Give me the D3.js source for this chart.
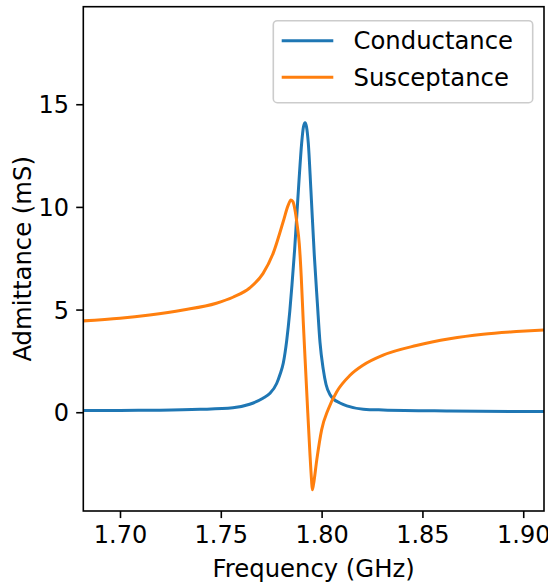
<!DOCTYPE html>
<html>
<head>
<meta charset="utf-8">
<script src="https://cdn.jsdelivr.net/npm/d3@7"></script>
<style>
  html, body { margin: 0; padding: 0; background: #fff; }
  svg { display: block; }
  text { font-family: "DejaVu Sans", sans-serif; fill: #000; }
</style>
</head>
<body>
<svg id="chart" width="548" height="584"></svg>
<script>
// ---- data ----
const seriesNames = ["Conductance", "Susceptance"];
const seriesColors = ["#1f77b4", "#ff7f0e"];

const conductanceFreq = [1.6818, 1.700, 1.7198, 1.7397, 1.7560, 1.7643, 1.7709, 1.7744, 1.7777, 1.7794,
  1.7810, 1.7827, 1.7842, 1.7853, 1.7866, 1.7877, 1.7888, 1.7901, 1.7910, 1.7918, 1.7925, 1.7934,
  1.7947, 1.7964, 1.7979, 1.7992, 1.8008, 1.8022, 1.8042, 1.8058, 1.8091, 1.8125, 1.8207, 1.8305,
  1.8635, 1.9103];
const conductance = [0.08, 0.09, 0.10, 0.14, 0.22, 0.39, 0.68, 0.92, 1.40, 1.85,
  2.40, 3.50, 4.90, 6.20, 7.90, 9.60, 11.30, 13.10, 13.90, 14.10, 13.90, 13.10,
  10.80, 7.60, 5.30, 3.40, 2.10, 1.35, 0.85, 0.65, 0.45, 0.31, 0.15, 0.11,
  0.06, 0.03];

const susceptanceFreq = [1.6818, 1.700, 1.7147, 1.7313, 1.7478, 1.7560, 1.7643, 1.7709, 1.7760,
  1.7810, 1.7833, 1.7848, 1.7858, 1.7868, 1.7879, 1.7889, 1.7899, 1.7909, 1.7918, 1.7929, 1.7942,
  1.7950, 1.7954, 1.7960, 1.7976, 1.8000, 1.8033, 1.8075, 1.8141, 1.8207, 1.8305, 1.8470, 1.8635,
  1.8801, 1.8966, 1.9103];
const susceptance = [4.45, 4.58, 4.74, 4.98, 5.31, 5.60, 6.05, 6.75, 7.75,
  9.30, 10.05, 10.34, 10.25, 9.85, 9.10, 8.23, 6.60, 4.40, 2.60, 0.44, -2.00,
  -3.30, -3.78, -3.50, -2.32, -0.86, 0.15, 1.00, 1.80, 2.30, 2.78, 3.25, 3.58,
  3.80, 3.93, 4.01];

const xTicks = [1.70, 1.75, 1.80, 1.85, 1.90];
const yTicks = [0, 5, 10, 15];
const xDomain = [1.6818, 1.9103];
const yDomain = [-4.81, 19.75];
const xLabel = "Frequency (GHz)";
const yLabel = "Admittance (mS)";

// ---- layout ----
const svg = d3.select("#chart");
const pLeft = 83.3, pRight = 544, pTop = 6.7, pBottom = 511;
const fs = 24.3;
const tickFs = 24;

const x = d3.scaleLinear().domain(xDomain).range([pLeft, pRight]);
const y = d3.scaleLinear().domain(yDomain).range([pBottom, pTop]);

svg.append("defs").append("clipPath").attr("id", "clip")
  .append("rect").attr("x", pLeft).attr("y", pTop)
  .attr("width", pRight - pLeft).attr("height", pBottom - pTop);

const series = [
  { name: seriesNames[0], color: seriesColors[0], f: conductanceFreq, v: conductance },
  { name: seriesNames[1], color: seriesColors[1], f: susceptanceFreq, v: susceptance }
];

const line = d3.line()
  .x(d => x(d[0]))
  .y(d => y(d[1]))
  .curve(d3.curveMonotoneX);

const plot = svg.append("g").attr("clip-path", "url(#clip)");
series.forEach(s => {
  plot.append("path")
    .datum(s.f.map((f, i) => [f, s.v[i]]))
    .attr("d", line)
    .attr("fill", "none")
    .attr("stroke", s.color)
    .attr("stroke-width", 3)
    .attr("stroke-linejoin", "round")
    .attr("stroke-linecap", "square");
});

// axes
const xAxis = d3.axisBottom(x).tickValues(xTicks).tickFormat(d3.format(".2f"))
  .tickSize(7.1).tickPadding(7.1);
const yAxis = d3.axisLeft(y).tickValues(yTicks).tickFormat(d3.format("d"))
  .tickSize(7.1).tickPadding(7.1);

const gx = svg.append("g").attr("transform", `translate(0,${pBottom})`).call(xAxis);
const gy = svg.append("g").attr("transform", `translate(${pLeft},0)`).call(yAxis);
[gx, gy].forEach(g => {
  g.select(".domain").remove();
  g.selectAll(".tick line").attr("stroke", "#000").attr("stroke-width", 1.6);
  g.selectAll(".tick text").attr("font-size", tickFs).attr("fill", "#000")
    .style("font-family", "'DejaVu Sans', sans-serif");
});
gx.selectAll(".tick text").attr("dy", null).attr("y", 32.3);
gy.selectAll(".tick text").attr("dy", null).attr("y", 8.6).attr("x", -14.2);

// spines
svg.append("rect")
  .attr("x", pLeft).attr("y", pTop)
  .attr("width", pRight - pLeft).attr("height", pBottom - pTop)
  .attr("fill", "none").attr("stroke", "#000").attr("stroke-width", 1.6);

// axis labels
svg.append("text")
  .attr("x", (pLeft + pRight) / 2).attr("y", 576.5)
  .attr("text-anchor", "middle").attr("font-size", fs)
  .text(xLabel);
svg.append("text")
  .attr("transform", `translate(31,${(pTop + pBottom) / 2}) rotate(-90)`)
  .attr("text-anchor", "middle").attr("font-size", fs)
  .text(yLabel);

// legend
const lg = svg.append("g");
lg.append("rect")
  .attr("x", 273.3).attr("y", 20.7)
  .attr("width", 532.7 - 273.3).attr("height", 102.7 - 20.7)
  .attr("rx", 4).attr("ry", 4)
  .attr("fill", "#fff").attr("fill-opacity", 0.8)
  .attr("stroke", "#cccccc").attr("stroke-width", 1.6);
const rowY = [40.7, 77.3];
series.forEach((s, i) => {
  lg.append("line")
    .attr("x1", 281.7).attr("x2", 333.3)
    .attr("y1", rowY[i]).attr("y2", rowY[i])
    .attr("stroke", s.color).attr("stroke-width", 3);
  lg.append("text")
    .attr("x", 353.5).attr("y", rowY[i] + 8.2)
    .attr("font-size", fs)
    .text(s.name);
});
</script>
</body>
</html>
